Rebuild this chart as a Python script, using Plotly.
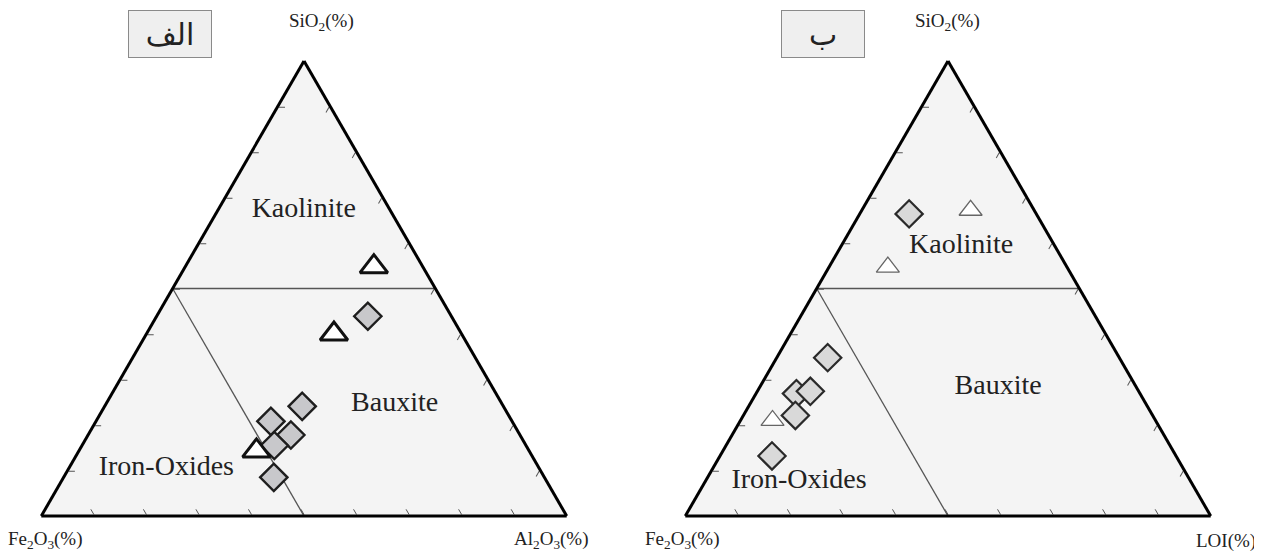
import plotly.graph_objects as go

# --- data (percent, a = SiO2, b = Fe2O3, c = Al2O3 / LOI) ---
# left diagram (الف)
left_dia_sio2 = [43.9, 24.1, 20.8, 17.8, 15.5, 8.5]
left_dia_fe2o3 = [15.9, 38.3, 45.9, 43.6, 47.9, 51.5]
left_dia_al2o3 = [40.2, 37.6, 33.3, 38.6, 36.6, 40.0]

left_tri_sio2 = [54.8, 40.0, 14.3]
left_tri_fe2o3 = [9.3, 24.3, 51.9]
left_tri_al2o3 = [35.9, 35.7, 33.8]

# right diagram (ب)
right_dia_sio2 = [66.4, 34.8, 26.9, 27.4, 22.1, 13.2]
right_dia_fe2o3 = [24.2, 55.5, 65.4, 62.5, 68.0, 76.9]
right_dia_loi = [9.4, 9.7, 7.7, 10.1, 9.9, 9.9]

right_tri_sio2 = [67.2, 54.7, 21.0]
right_tri_fe2o3 = [12.1, 34.1, 72.9]
right_tri_loi = [20.7, 11.2, 6.1]

# field boundaries: SiO2 = 50 and Fe2O3 = 50
bound_h = dict(a=[50, 50], b=[50, 0], c=[0, 50])
bound_fe = dict(a=[50, 0], b=[50, 50], c=[0, 50])

fields = ['Kaolinite', 'Bauxite', 'Iron-Oxides']
left_lbl_a = [67.3, 24.7, 10.6]
left_lbl_b = [16.4, 20.4, 70.9]
left_lbl_c = [16.3, 54.9, 18.5]
right_lbl_a = [59.4, 28.3, 7.7]
right_lbl_b = [17.8, 26.3, 74.5]
right_lbl_c = [22.8, 45.4, 17.8]

SERIF = 'Liberation Serif'
W, H, OFF = 1254, 546, 8  # page body margin of 8px around the figure


def px(x):
    return (x - OFF) / W


def py(y):
    return 1 - (y - OFF) / H


fig = go.Figure()


def add_diagram(sub, lbl_a, lbl_b, lbl_c):
    for bd in (bound_h, bound_fe):
        fig.add_trace(go.Scatterternary(a=bd['a'], b=bd['b'], c=bd['c'], mode='lines',
                                        line=dict(color='#555555', width=1.3),
                                        subplot=sub, showlegend=False, hoverinfo='skip'))
    fig.add_trace(go.Scatterternary(a=lbl_a, b=lbl_b, c=lbl_c, mode='text', text=fields,
                                    textfont=dict(family=SERIF, size=28, color='#222222'),
                                    subplot=sub, showlegend=False, hoverinfo='skip'))


add_diagram('ternary', left_lbl_a, left_lbl_b, left_lbl_c)
add_diagram('ternary2', right_lbl_a, right_lbl_b, right_lbl_c)

# left samples
fig.add_trace(go.Scatterternary(a=left_dia_sio2, b=left_dia_fe2o3, c=left_dia_al2o3, mode='markers',
                                marker=dict(symbol='diamond', size=21, color='#c8c8cb',
                                            line=dict(color='#1e1e1e', width=2.4)),
                                subplot='ternary', showlegend=False))
fig.add_trace(go.Scatterternary(a=left_tri_sio2, b=left_tri_fe2o3, c=left_tri_al2o3, mode='markers',
                                marker=dict(symbol='triangle-up', size=24, color='white',
                                            line=dict(color='#111111', width=3)),
                                subplot='ternary', showlegend=False))
# right samples
fig.add_trace(go.Scatterternary(a=right_dia_sio2, b=right_dia_fe2o3, c=right_dia_loi, mode='markers',
                                marker=dict(symbol='diamond', size=21, color='#d9d9d9',
                                            line=dict(color='#2a2a2a', width=2.2)),
                                subplot='ternary2', showlegend=False))
fig.add_trace(go.Scatterternary(a=right_tri_sio2, b=right_tri_fe2o3, c=right_tri_loi, mode='markers',
                                marker=dict(symbol='triangle-up', size=20, color='white',
                                            line=dict(color='#666666', width=1.3)),
                                subplot='ternary2', showlegend=False))

axis = dict(title=dict(text=''), showticklabels=False, showgrid=False, ticks='inside',
            ticklen=6, tickwidth=1, tickcolor='#555555', dtick=10,
            linecolor='black', linewidth=3, min=0)
tern = dict(sum=100, bgcolor='#f4f4f4', aaxis=axis, baxis=axis, caxis=axis)

ydom = [py(516), py(61)]
fig.update_layout(
    width=W, height=H,
    margin=dict(l=0, r=0, t=0, b=0),
    paper_bgcolor='white',
    font=dict(family=SERIF, size=19, color='#222222'),
    ternary=dict(tern, domain=dict(x=[px(26), px(582)], y=ydom)),
    ternary2=dict(tern, domain=dict(x=[px(670), px(1226)], y=ydom)),
    showlegend=False,
)

# axis titles
titles = [
    (px(321), 1.0, 'center', 'top', 'SiO<sub>2</sub>(%)'),
    (px(45), 0.0, 'center', 'bottom', 'Fe<sub>2</sub>O<sub>3</sub>(%)'),
    (px(551), 0.0, 'center', 'bottom', 'Al<sub>2</sub>O<sub>3</sub>(%)'),
    (px(947), 1.0, 'center', 'top', 'SiO<sub>2</sub>(%)'),
    (px(682), 0.0, 'center', 'bottom', 'Fe<sub>2</sub>O<sub>3</sub>(%)'),
    (px(1226), 0.0, 'center', 'bottom', 'LOI(%)'),
]
for x, y, xa, ya, t in titles:
    fig.add_annotation(x=x, y=y, xref='paper', yref='paper', xanchor=xa, yanchor=ya,
                       text=t, showarrow=False, font=dict(family=SERIF, size=19, color='#222222'))

# panel labels
for x, t in [(px(169.5), 'الف'), (px(822.5), 'ب')]:
    fig.add_annotation(x=x, y=py(34), xref='paper', yref='paper', xanchor='center', yanchor='middle',
                       text=t, showarrow=False,
                       width=80, height=44, bgcolor='#efefef', bordercolor='#8a8a8a', borderwidth=1,
                       font=dict(family='DejaVu Sans', size=30, color='#222222'))

fig.write_html("out.html")
